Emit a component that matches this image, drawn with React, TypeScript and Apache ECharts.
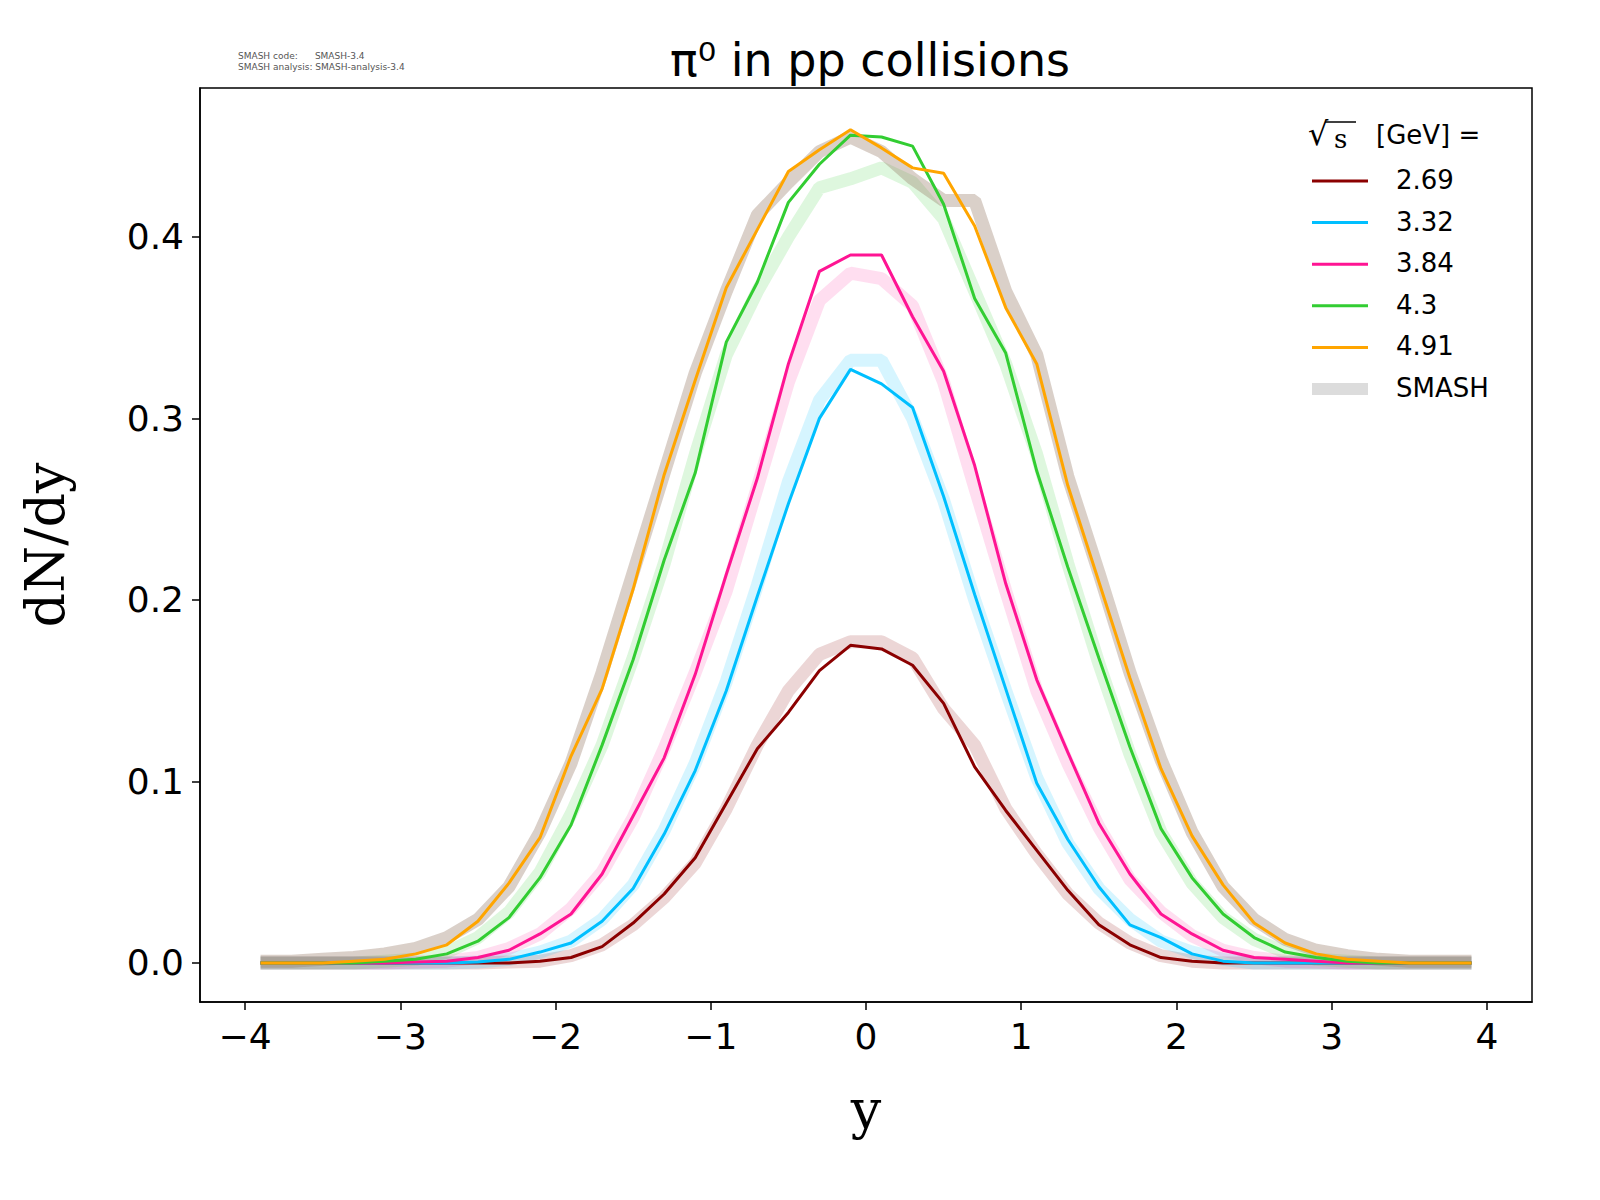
import React, { useEffect, useRef } from 'react'
import * as echarts from 'echarts'

const rapidity = [-3.9, -3.7, -3.5, -3.3, -3.1, -2.9, -2.7, -2.5, -2.3, -2.1, -1.9, -1.7, -1.5, -1.3, -1.1, -0.9, -0.7, -0.5, -0.3, -0.1,
  0.1, 0.3, 0.5, 0.7, 0.9, 1.1, 1.3, 1.5, 1.7, 1.9, 2.1, 2.3, 2.5, 2.7, 2.9, 3.1, 3.3, 3.5, 3.7, 3.9]

const energies = ['2.69', '3.32', '3.84', '4.3', '4.91']
const colors = ['#8b0000', '#00bfff', '#ff1493', '#32cd32', '#ffa500']
const bandColors = ['rgba(139,0,0,0.16)', 'rgba(0,191,255,0.16)', 'rgba(255,20,147,0.14)', 'rgba(50,205,50,0.16)', 'rgba(150,120,100,0.35)']

const data269 = [0, 0, 0, 0, 0, 0, 0, 0, 0, 0.001, 0.003, 0.009, 0.022, 0.038, 0.058, 0.088, 0.118, 0.138, 0.161, 0.175,
  0.173, 0.164, 0.143, 0.108, 0.084, 0.062, 0.040, 0.021, 0.010, 0.003, 0.001, 0, 0, 0, 0, 0, 0, 0, 0, 0]
const data332 = [0, 0, 0, 0, 0, 0, 0, 0.0005, 0.002, 0.006, 0.011, 0.023, 0.041, 0.071, 0.106, 0.150, 0.202, 0.253, 0.300, 0.327,
  0.319, 0.306, 0.257, 0.203, 0.151, 0.099, 0.068, 0.042, 0.021, 0.014, 0.005, 0.001, 0, 0, 0, 0, 0, 0, 0, 0]
const data384 = [0, 0, 0, 0, 0, 0.0005, 0.001, 0.003, 0.007, 0.016, 0.027, 0.049, 0.081, 0.113, 0.159, 0.214, 0.267, 0.330, 0.381, 0.390,
  0.390, 0.356, 0.326, 0.274, 0.209, 0.156, 0.116, 0.077, 0.049, 0.027, 0.016, 0.007, 0.003, 0.002, 0.001, 0, 0, 0, 0, 0]
const data430 = [0, 0, 0, 0, 0.001, 0.002, 0.005, 0.012, 0.025, 0.047, 0.076, 0.120, 0.167, 0.222, 0.270, 0.342, 0.375, 0.419, 0.440, 0.456,
  0.455, 0.450, 0.418, 0.366, 0.336, 0.271, 0.218, 0.168, 0.119, 0.074, 0.047, 0.027, 0.014, 0.006, 0.003, 0.001, 0, 0, 0, 0]
const data491 = [0, 0, 0, 0.001, 0.002, 0.005, 0.010, 0.023, 0.044, 0.069, 0.114, 0.151, 0.206, 0.269, 0.321, 0.372, 0.404, 0.436, 0.448, 0.459,
  0.449, 0.438, 0.435, 0.406, 0.361, 0.330, 0.263, 0.210, 0.157, 0.107, 0.070, 0.043, 0.022, 0.011, 0.005, 0.002, 0.001, 0, 0, 0]

const smash269 = [0, 0, 0, 0, 0, 0, 0, 0, 0.0005, 0.001, 0.004, 0.010, 0.021, 0.036, 0.055, 0.085, 0.120, 0.150, 0.170, 0.177,
  0.177, 0.168, 0.140, 0.120, 0.085, 0.060, 0.038, 0.022, 0.011, 0.004, 0.001, 0, 0, 0, 0, 0, 0, 0, 0, 0]
const smash332 = [0, 0, 0, 0, 0, 0, 0, 0.0005, 0.002, 0.006, 0.012, 0.024, 0.043, 0.073, 0.110, 0.155, 0.208, 0.265, 0.310, 0.332,
  0.332, 0.300, 0.255, 0.200, 0.150, 0.102, 0.066, 0.041, 0.024, 0.012, 0.006, 0.002, 0, 0, 0, 0, 0, 0, 0, 0]
const smash384 = [0, 0, 0, 0, 0, 0.0005, 0.001, 0.003, 0.008, 0.016, 0.030, 0.050, 0.080, 0.118, 0.160, 0.205, 0.262, 0.320, 0.365, 0.380,
  0.377, 0.362, 0.320, 0.262, 0.205, 0.150, 0.110, 0.075, 0.046, 0.028, 0.015, 0.007, 0.003, 0.001, 0.0005, 0, 0, 0, 0, 0]
const smash430 = [0, 0, 0, 0, 0.001, 0.002, 0.006, 0.014, 0.028, 0.050, 0.082, 0.120, 0.168, 0.220, 0.280, 0.335, 0.370, 0.400, 0.427, 0.432,
  0.438, 0.430, 0.410, 0.370, 0.330, 0.280, 0.220, 0.165, 0.115, 0.072, 0.044, 0.025, 0.013, 0.006, 0.002, 0.001, 0, 0, 0, 0]
const smash491 = [0.001, 0.001, 0.002, 0.003, 0.005, 0.008, 0.014, 0.024, 0.042, 0.072, 0.110, 0.160, 0.215, 0.270, 0.325, 0.370, 0.412, 0.430, 0.447, 0.455,
  0.447, 0.432, 0.420, 0.420, 0.370, 0.335, 0.268, 0.215, 0.160, 0.112, 0.072, 0.042, 0.024, 0.013, 0.007, 0.004, 0.002, 0.001, 0.001, 0.001]

const measured = [data269, data332, data384, data430, data491]
const simulated = [smash269, smash332, smash384, smash430, smash491]

const xTicks = [-4, -3, -2, -1, 0, 1, 2, 3, 4]
const yTicks = [0, 0.1, 0.2, 0.3, 0.4]

const pairs = (ys: number[]) => rapidity.map((x, i) => [x, ys[i]])

export default function App() {
  const ref = useRef<HTMLDivElement>(null)

  useEffect(() => {
    document.body.style.margin = '0'
    document.body.style.overflow = 'hidden'
    if (!ref.current) return
    const chart = echarts.init(ref.current, undefined, { renderer: 'svg' })
    const font = 'DejaVu Sans'
    const minus = (v: number) => String(v).replace('-', '\u2212')

    const bandSeries = simulated.map((ys, i) => ({
      type: 'line', name: 'SMASH ' + energies[i], data: pairs(ys), symbol: 'none', z: 1,
      lineStyle: { color: bandColors[i], width: 13 }
    }))
    const lineSeries = measured.map((ys, i) => ({
      type: 'line', name: energies[i], data: pairs(ys), symbol: 'none', z: 3,
      lineStyle: { color: colors[i], width: 3 }
    }))

    // hand-drawn legend (matplotlib style: plain line swatches)
    const legendItems: any[] = []
    const names = [...energies, 'SMASH']
    names.forEach((n, i) => {
      const y = 181 + i * 41.6
      const isSmash = n === 'SMASH'
      legendItems.push({ type: 'line', shape: { x1: 1312, y1: y, x2: 1368, y2: y },
        style: { stroke: isSmash ? '#dcdcdc' : colors[i], lineWidth: isSmash ? 12 : 3 } })
      legendItems.push({ type: 'text', x: 1396, y: y - 14, style: { text: n, font: '26px DejaVu Sans', fill: '#000' } })
    })

    chart.setOption({
      animation: false,
      backgroundColor: '#fff',
      title: {
        text: 'π⁰ in pp collisions', left: 865, top: 32, textAlign: 'center',
        textStyle: { fontFamily: font, fontSize: 46, fontWeight: 'normal', color: '#000' }
      },
      graphic: [
        { type: 'text', x: 238, y: 50, style: { text: 'SMASH code:      SMASH-3.4\nSMASH analysis: SMASH-analysis-3.4', font: '9px DejaVu Sans', fill: '#555', lineHeight: 11 } },
        { type: 'text', x: 1308, y: 118, style: { text: '√', font: '32px DejaVu Serif', fill: '#000' } },
        { type: 'line', shape: { x1: 1325, y1: 122, x2: 1356, y2: 122 }, style: { stroke: '#000', lineWidth: 1.5 } },
        { type: 'text', x: 1334, y: 126, style: { text: 's', font: '26px DejaVu Serif', fill: '#000' } },
        { type: 'text', x: 1376, y: 122, style: { text: '[GeV] =', font: '26px DejaVu Sans', fill: '#000' } },
        ...legendItems
      ],
      grid: { left: 200, top: 88, width: 1332, height: 914, show: true, borderColor: '#000', borderWidth: 1.5, backgroundColor: 'transparent' },
      xAxis: {
        type: 'value', min: -4.29, max: 4.29, name: 'y', nameLocation: 'middle', nameGap: 80,
        nameTextStyle: { fontFamily: 'DejaVu Serif', fontSize: 54, color: '#000' },
        splitLine: { show: false },
        axisLine: { show: true, onZero: false, lineStyle: { color: '#000', width: 1.5 } },
        axisTick: { show: true, length: 8, lineStyle: { color: '#000', width: 1.5 }, customValues: xTicks },
        axisLabel: { customValues: xTicks, formatter: (v: number) => minus(v), fontFamily: font, fontSize: 36, color: '#000', margin: 16 }
      },
      yAxis: {
        type: 'value', min: -0.0215, max: 0.482, name: 'dN/dy', nameLocation: 'middle', nameGap: 128,
        nameTextStyle: { fontFamily: 'DejaVu Serif', fontSize: 54, color: '#000' },
        splitLine: { show: false },
        axisLine: { show: true, onZero: false, lineStyle: { color: '#000', width: 1.5 } },
        axisTick: { show: true, length: 8, lineStyle: { color: '#000', width: 1.5 }, customValues: yTicks },
        axisLabel: { customValues: yTicks, formatter: (v: number) => v.toFixed(1), fontFamily: font, fontSize: 36, color: '#000', margin: 16 }
      },
      series: [...bandSeries, ...lineSeries]
    })
    return () => chart.dispose()
  }, [])

  return <div ref={ref} style={{ width: 1600, height: 1200, overflow: 'hidden' }} />
}
